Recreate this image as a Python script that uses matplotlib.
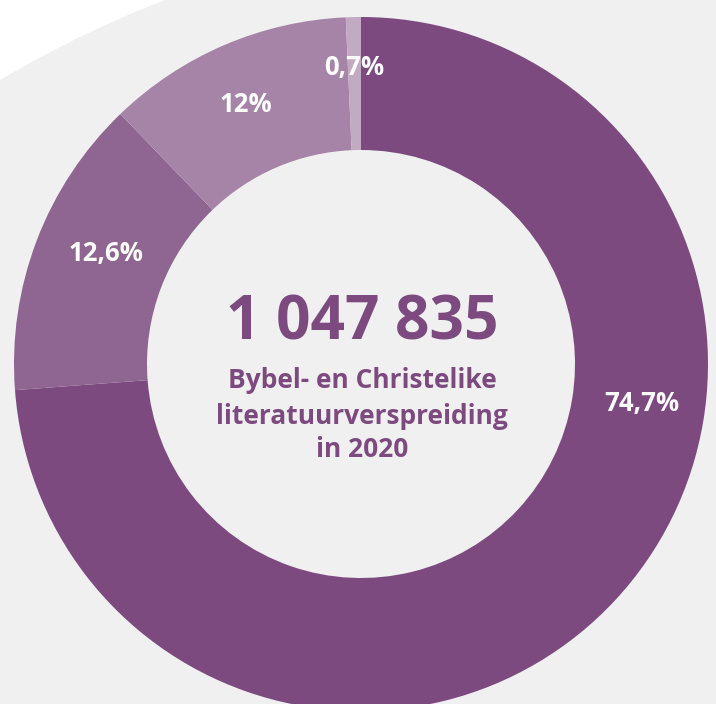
import matplotlib
matplotlib.use("Agg")
import matplotlib.pyplot as plt
from matplotlib.patches import Circle

# ---- data ----
# arc sizes as drawn in the reference (percent of the ring)
arc_shares = [73.8, 14.0, 11.5, 0.7]
share_labels = ['74,7%', '12,6%', '12%', '0,7%']
colors = ['#7d4a80', '#8f6591', '#a684a7', '#c2aac3']
total_label = '1 047 835'
subtitle_lines = ['Bybel- en Christelike', 'literatuurverspreiding', 'in 2020']

# ---- layout (pixel coordinates, y from top) ----
W, H = 716, 704
label_pos = [(642, 403), (106, 253), (246, 104), (354, 67)]
center_px = (361, 364)
R_outer, R_inner = 347, 214

plt.rcParams['font.family'] = ['Open Sans', 'DejaVu Sans']

fig = plt.figure(figsize=(W / 100, H / 100), dpi=100, facecolor='white')
ax = fig.add_axes([0, 0, 1, 1])

# light gray background shape (white only in the top-left corner)
ax.add_patch(Circle((562.5, H - 1030), 1104, color='#f0f0f0', zorder=0, lw=0))

ax.pie(arc_shares, colors=colors, startangle=90, counterclock=False,
       center=(center_px[0], H - center_px[1]), radius=R_outer,
       wedgeprops=dict(width=R_outer - R_inner, linewidth=0))

ax.set_xlim(0, W)
ax.set_ylim(0, H)
ax.set_aspect('equal')
ax.axis('off')

for lab, (x, y) in zip(share_labels, label_pos):
    ax.text(x, H - y, lab, color='white', fontsize=18.5, fontweight='bold',
            ha='center', va='center', zorder=5)

purple = '#7d4a80'
ax.text(362, H - 339, total_label, color=purple, fontsize=43.5, fontweight='bold',
        ha='center', va='baseline', zorder=5)
baselines = [388, 424, 457]
for line, b in zip(subtitle_lines, baselines):
    ax.text(362, H - b, line, color=purple, fontsize=19, fontweight='bold',
            ha='center', va='baseline', zorder=5)

fig.savefig('out.png', dpi=100, facecolor=fig.get_facecolor())
